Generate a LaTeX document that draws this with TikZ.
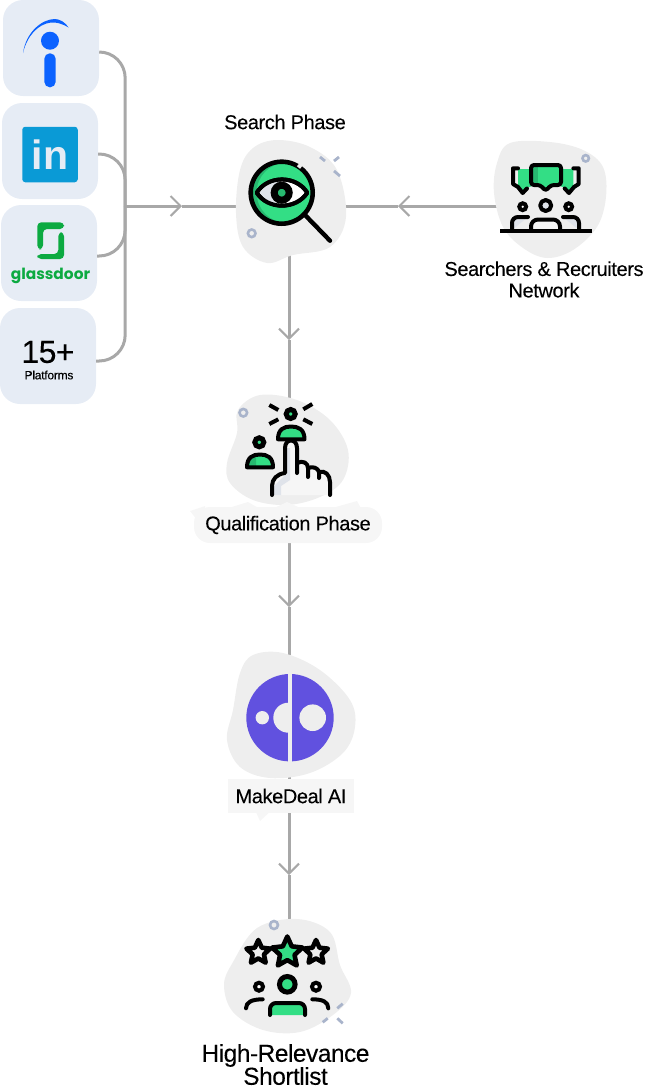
\documentclass[tikz,border=0pt]{standalone}
\usepackage{fontspec}
\usetikzlibrary{arrows.meta,shapes.geometric,calc}
\setmainfont{Liberation Sans}
\newfontfamily\lab[LetterSpace=-2,FakeBold=0.12]{Liberation Sans}
\newfontfamily\gd{Poppins}
\definecolor{cardbg}{HTML}{E6ECF5}
\definecolor{blobbg}{HTML}{EEEEEE}
\definecolor{labbg}{HTML}{F6F6F6}
\definecolor{linec}{HTML}{A8A8A8}
\definecolor{gr}{HTML}{33DE85}
\definecolor{dgr}{HTML}{27B970}
\definecolor{face}{HTML}{DFE3EA}
\definecolor{deco}{HTML}{A9B4CB}
\definecolor{indeedb}{HTML}{0B62FF}
\definecolor{lib}{HTML}{0A9AD6}
\definecolor{gdg}{HTML}{0CAA41}
\definecolor{md}{HTML}{6151DF}
\tikzset{
 card/.style={fill=cardbg,rounded corners=20pt,minimum width=96pt,minimum height=96pt,inner sep=0pt},
 conn/.style={draw=linec,line width=3pt},
 tree/.style={conn,rounded corners=26pt},
 chev/.style={conn,-{Straight Barb[length=10pt,width=20pt,line width=2pt]}},
 blob/.style={fill=blobbg},
 blk/.style={draw=black,line width=4pt,line cap=round,line join=round},
 ring/.style={draw=deco,line width=2.6pt},
 dsh/.style={draw=deco,line width=2.8pt},
 title/.style={inner sep=0pt,align=center,text=black,font=\lab\fontsize{20}{21.5}\selectfont},
 starshape/.style={star,star points=5,star point ratio=2.1,inner sep=0pt,draw=black,line width=4.6pt,line join=round},
}
\begin{document}
\begin{tikzpicture}[x=1pt,y=-1pt]
\useasboundingbox (0,0) rectangle (645,1088);
% cards
\node[card] (card1) at (51,48) {};
\node[card] (card2) at (50,151) {};
\node[card] (card3) at (49,253) {};
\node[card] (card4) at (48,356) {};
% hub points
\coordinate (hub) at (125,206);
\coordinate (searchC) at (289,206);
\coordinate (netC) at (545,206);
\coordinate (qualC) at (289,460);
\coordinate (mdC) at (289,717);
\coordinate (listC) at (289,980);
\coordinate (chevA) at (182,206);
\coordinate (chevB) at (398,206);
\coordinate (chevC) at (289,340);
\coordinate (chevD) at (289,607);
\coordinate (chevE) at (289,875);
% connectors
\draw[tree] ([yshift=-4pt]card1.east) -- ++(26,0) -- (125,206);
\draw[tree] ([yshift=-3pt]card2.east) -- ++(27,0) -- (125,206);
\draw[tree] ([yshift=-3pt]card3.east) -- ++(28,0) -- (125,206);
\draw[tree] ([yshift=-5pt]card4.east) -- ++(29,0) -- (125,206);
\draw[chev] (hub) -- (chevA);
\draw[conn] (chevA) -- (searchC);
\draw[chev] (netC) -- (chevB);
\draw[conn] (chevB) -- (searchC);
\draw[chev] (searchC) -- (chevC);
\draw[conn] (chevC) -- (qualC);
\draw[chev] (qualC) -- (chevD);
\draw[conn] (chevD) -- (mdC);
\draw[chev] (mdC) -- (chevE);
\draw[conn] (chevE) -- (listC);
% --- card contents
\fill[indeedb,rounded corners=5.5pt] (44.3,53.3) rectangle (55.7,87.3);
\fill[indeedb] (50,40.7) circle[radius=9pt];
\fill[indeedb] (23,53) .. controls (26,32) and (42,19) .. (55,19) .. controls (60,19) and (66,23) .. (68.5,27.5) .. controls (62,23.5) and (56,22) .. (51,22.5) .. controls (38,24) and (27,36) .. (23,53) -- cycle;
\node[fill=lib,rounded corners=3pt,minimum width=55.5pt,minimum height=55.5pt,inner sep=0pt,text=cardbg,font=\bfseries\fontsize{41}{41}\selectfont] (liglyph) at (50,154.5) {in};
\fill[gdg,rounded corners=4pt] (37.3,222.3) -- (64,222.3) -- (64,229) -- (43,229) -- (43,249.3) -- (37.3,249.3) -- cycle;
\fill[gdg,rounded corners=4pt] (58.3,232.3) -- (64,232.3) -- (64,259) -- (37.3,259) -- (37.3,254) -- (58.3,254) -- cycle;
\node[inner sep=0pt,text=gdg,font=\gd\bfseries\fontsize{15.4}{16}\selectfont] (gdtext) at (50.5,275.5) {glassdoor};
\node[inner sep=0pt,font=\lab\fontsize{32}{32}\selectfont] (plus) at (48,352) {15+};
\node[inner sep=0pt,font=\lab\fontsize{12}{12}\selectfont] (plat) at (49,375) {Platforms};
% --- search phase
\fill[blob] plot[smooth cycle,tension=0.6] coordinates {(277,140)(310,147)(337,170)(346,217)(330,247)(293,255)(267,263)(243,247)(236,213)(240,170)(253,148)};
\draw[ring] (251.7,233.3) circle[radius=3.8pt];
\draw[dsh] (320,157) -- (325,161);
\draw[dsh] (334,161) -- (339,157);
\draw[dsh] (334,171) -- (340,176);
\draw[black,line width=4.4pt,line cap=round] (305,215) -- (330,240.7);
\fill[dgr] (281.7,192.7) circle[radius=30pt];
\begin{scope}
\clip (281.7,192.7) circle[radius=30pt];
\fill[gr] (286.7,192.7) circle[radius=30pt];
\end{scope}
\draw[black,line width=4.6pt] (281.7,192.7) circle[radius=31pt];
\draw[blobbg,line width=4pt] (298.5,167.5) -- (302.5,162.5);
\draw[blk,fill=white] (256.7,192.7) .. controls (268,175) and (296,175) .. (307.3,192.7) .. controls (296,210) and (268,210) .. (256.7,192.7) -- cycle;
\fill[face] (260,192.7) .. controls (266,183) and (272,181) .. (278,180) -- (278,205) .. controls (272,204) and (266,202) .. (260,192.7) -- cycle;
\draw[blk,fill=none] (256.7,192.7) .. controls (268,175) and (296,175) .. (307.3,192.7) .. controls (296,210) and (268,210) .. (256.7,192.7) -- cycle;
\draw[black,line width=7pt,fill=dgr] (281.7,192.7) circle[radius=7.5pt];
\node[title] (searchT) at (285,122) {Search Phase};
% --- network
\fill[blob] plot[smooth cycle,tension=0.6] coordinates {(510,143)(550,142)(583,150)(603,167)(606,197)(597,227)(573,250)(547,258)(523,248)(503,227)(494,193)(497,163)};
\draw[ring] (585.7,158.3) circle[radius=3.2pt];
\fill[gr] (518,169) -- (532,169) -- (532,186) -- (527,188) -- (522.7,193) -- (518,187) -- cycle;
\fill[gr] (573.4,169) -- (560,169) -- (560,186) -- (564.7,188) -- (569,193) -- (573.4,187) -- cycle;
\draw[blk] (518,168.3) -- (513,168.3) -- (513,184) -- (518,187) -- (522.7,193) -- (527,188.5);
\draw[blk] (573.4,168.3) -- (578.7,168.3) -- (578.7,184) -- (574,187) -- (569,193) -- (564.7,188.5);
\fill[gr,rounded corners=3pt] (531,165) -- (561,165) -- (561,185) -- (551,185) -- (545.7,191) -- (540.3,185) -- (531,185) -- cycle;
\fill[dgr] (532,166) rectangle (538,184);
\draw[blk,rounded corners=3pt] (531,165) -- (561,165) -- (561,185) -- (551,185) -- (545.7,191) -- (540.3,185) -- (531,185) -- cycle;
\draw[blk,fill=face] (545.7,205.5) circle[radius=5.5pt];
\draw[black,line width=4pt,fill=white] (522.7,206.7) circle[radius=3.4pt];
\draw[black,line width=4pt,fill=white] (568.7,206.7) circle[radius=3.4pt];
\draw[blk,fill=face,rounded corners=6pt] (512,230) -- (512,217) -- (528,217);
\draw[blk,fill=face,rounded corners=6pt] (579,230) -- (579,217) -- (563,217);
\draw[blk,fill=blobbg!60!white,rounded corners=7pt] (531,230) -- (531,219.5) -- (560,219.5) -- (560,230);
\draw[black,line width=4pt] (500,230.7) -- (591.7,230.7);
\node[title] (netT) at (544,279.5) {Searchers \& Recruiters\\Network};
% --- qualification
\fill[blob] plot[smooth cycle,tension=0.6] coordinates {(260,395)(297,400)(330,420)(348,450)(343,480)(320,497)(287,505)(253,500)(230,483)(227,463)(237,433)(238,410)};
\draw[ring] (243.3,412.7) circle[radius=3.8pt];
\draw[black,line width=4pt] (269.3,405) -- (278.3,410);
\draw[black,line width=4pt] (312.3,404) -- (303.3,409.3);
\draw[black,line width=4pt] (269.3,424) -- (278.3,419.3);
\draw[black,line width=4pt] (312.3,424) -- (303.3,419.3);
\draw[black,line width=5pt,fill=gr] (290.7,414) circle[radius=4.5pt];
\draw[blk,fill=gr,line cap=butt] (278,439.3) .. controls (278,429) and (284,426.5) .. (291,426.5) .. controls (298,426.5) and (304.5,429) .. (304.5,439.3) -- cycle;
\draw[black,line width=5pt,fill=gr] (259.3,442.3) circle[radius=4.5pt];
\fill[gr] (247.5,467.3) .. controls (247.5,457) and (253,454.5) .. (260,454.5) .. controls (267,454.5) and (272.5,457) .. (272.5,467.3) -- cycle;
\fill[dgr] (247.5,467.3) .. controls (247.5,457) and (253,454.5) .. (256,454.5) -- (256,467.3) -- cycle;
\draw[blk] (247,467.3) .. controls (247,457) and (253,454.5) .. (260,454.5) .. controls (267,454.5) and (273,457) .. (273,467.3) -- cycle;
\fill[labbg] (272,495) -- (272,486) .. controls (272,479) and (277,474) .. (285,473) -- (285,448) .. controls (285,438) and (297,438) .. (297,448) -- (297,463) .. controls (303,460) and (308,463) .. (308,468) .. controls (313,466) and (318,468) .. (319,472) .. controls (325,470) and (330,475) .. (330,482) -- (330,495) -- cycle;
\fill[face] (286,448) -- (290,448) -- (290,480) -- (281,486) -- (281,495) -- (274,495) -- (274,486) -- (286,474) -- cycle;
\draw[blk,fill=none] (272,495) -- (272,486) .. controls (272,479) and (277,474) .. (285,473) -- (285,448) .. controls (285,438) and (297,438) .. (297,448) -- (297,473);
\draw[blk] (297,463) .. controls (303,460) and (308,463) .. (308,468) -- (308,477);
\draw[blk] (308,468) .. controls (313,466) and (318,468) .. (319,472) -- (319,478);
\draw[blk] (319,472) .. controls (325,470) and (330,475) .. (330,482) -- (330,495);
\fill[labbg] (222,510) -- (248,502) -- (262,510) -- cycle;
\fill[labbg] (270,510) -- (287,502) -- (305,510) -- cycle;
\fill[labbg] (325,510) -- (357,501) -- (362,510) -- cycle;
\fill[labbg] (190,511) -- (205,506) -- (205,530) -- cycle;
\node[title,fill=labbg,rounded corners=16pt,minimum width=188pt,minimum height=36pt] (qualT) at (288,525) {Qualification Phase};
% --- makedeal
\fill[blob] plot[smooth cycle,tension=0.6] coordinates {(253,655)(283,653)(320,670)(350,700)(355,727)(343,753)(310,773)(270,778)(240,767)(227,740)(233,710)(240,673)};
\fill[md] (290,717.7) circle[radius=43.7pt];
\fill[blobbg] (288.3,672) rectangle (291.7,763);
\fill[blobbg] (288.3,717.7) circle[radius=15pt];
\fill[md] (291.7,700) rectangle (305,735);
\fill[blobbg] (262.3,717.7) circle[radius=6.7pt];
\fill[blobbg] (312.7,717.7) circle[radius=13.3pt];
\fill[labbg] (255,810) -- (260,821) -- (272,810) -- cycle;
\node[title,fill=labbg,minimum width=126pt,minimum height=34pt] (mdT) at (291,796) {MakeDeal AI};
% --- shortlist
\fill[blob] plot[smooth cycle,tension=0.6] coordinates {(257,928)(297,919)(330,932)(340,965)(351,993)(333,1015)(300,1032)(263,1030)(233,1012)(224,985)(233,962)};
\draw[ring] (274,925) circle[radius=4pt];
\draw[dsh] (322.7,1022.3) -- (327.7,1018.3);
\draw[dsh] (337.3,1008.3) -- (342.7,1003.7);
\draw[dsh] (337.3,1018.3) -- (342.7,1023.3);
\node[starshape,fill=blobbg,minimum size=25pt] (starL) at (258.3,952.5) {};
\node[starshape,fill=blobbg,minimum size=25pt] (starR) at (316,952.5) {};
\node[starshape,fill=gr,minimum size=32pt] (starM) at (287.3,952.5) {};
\draw[black,line width=5pt,fill=gr] (287.3,984.3) circle[radius=7.8pt];
\draw[black,line width=4pt,fill=white] (259,986.7) circle[radius=4pt];
\draw[black,line width=4pt,fill=white] (316,986.7) circle[radius=4pt];
\draw[blk] (246,1008.3) .. controls (246,1002) and (252,999.3) .. (262.7,999.3);
\draw[blk] (328.3,1008.3) .. controls (328.3,1002) and (323,999.3) .. (312.3,999.3);
\draw[blk,fill=gr,rounded corners=6pt] (270,1015) -- (270,1003) -- (305,1003) -- (305,1015);
\node[title,font=\lab\fontsize{24.5}{23}\selectfont] (listT) at (285.5,1064.5) {High-Relevance\\Shortlist};
\end{tikzpicture}
\end{document}
